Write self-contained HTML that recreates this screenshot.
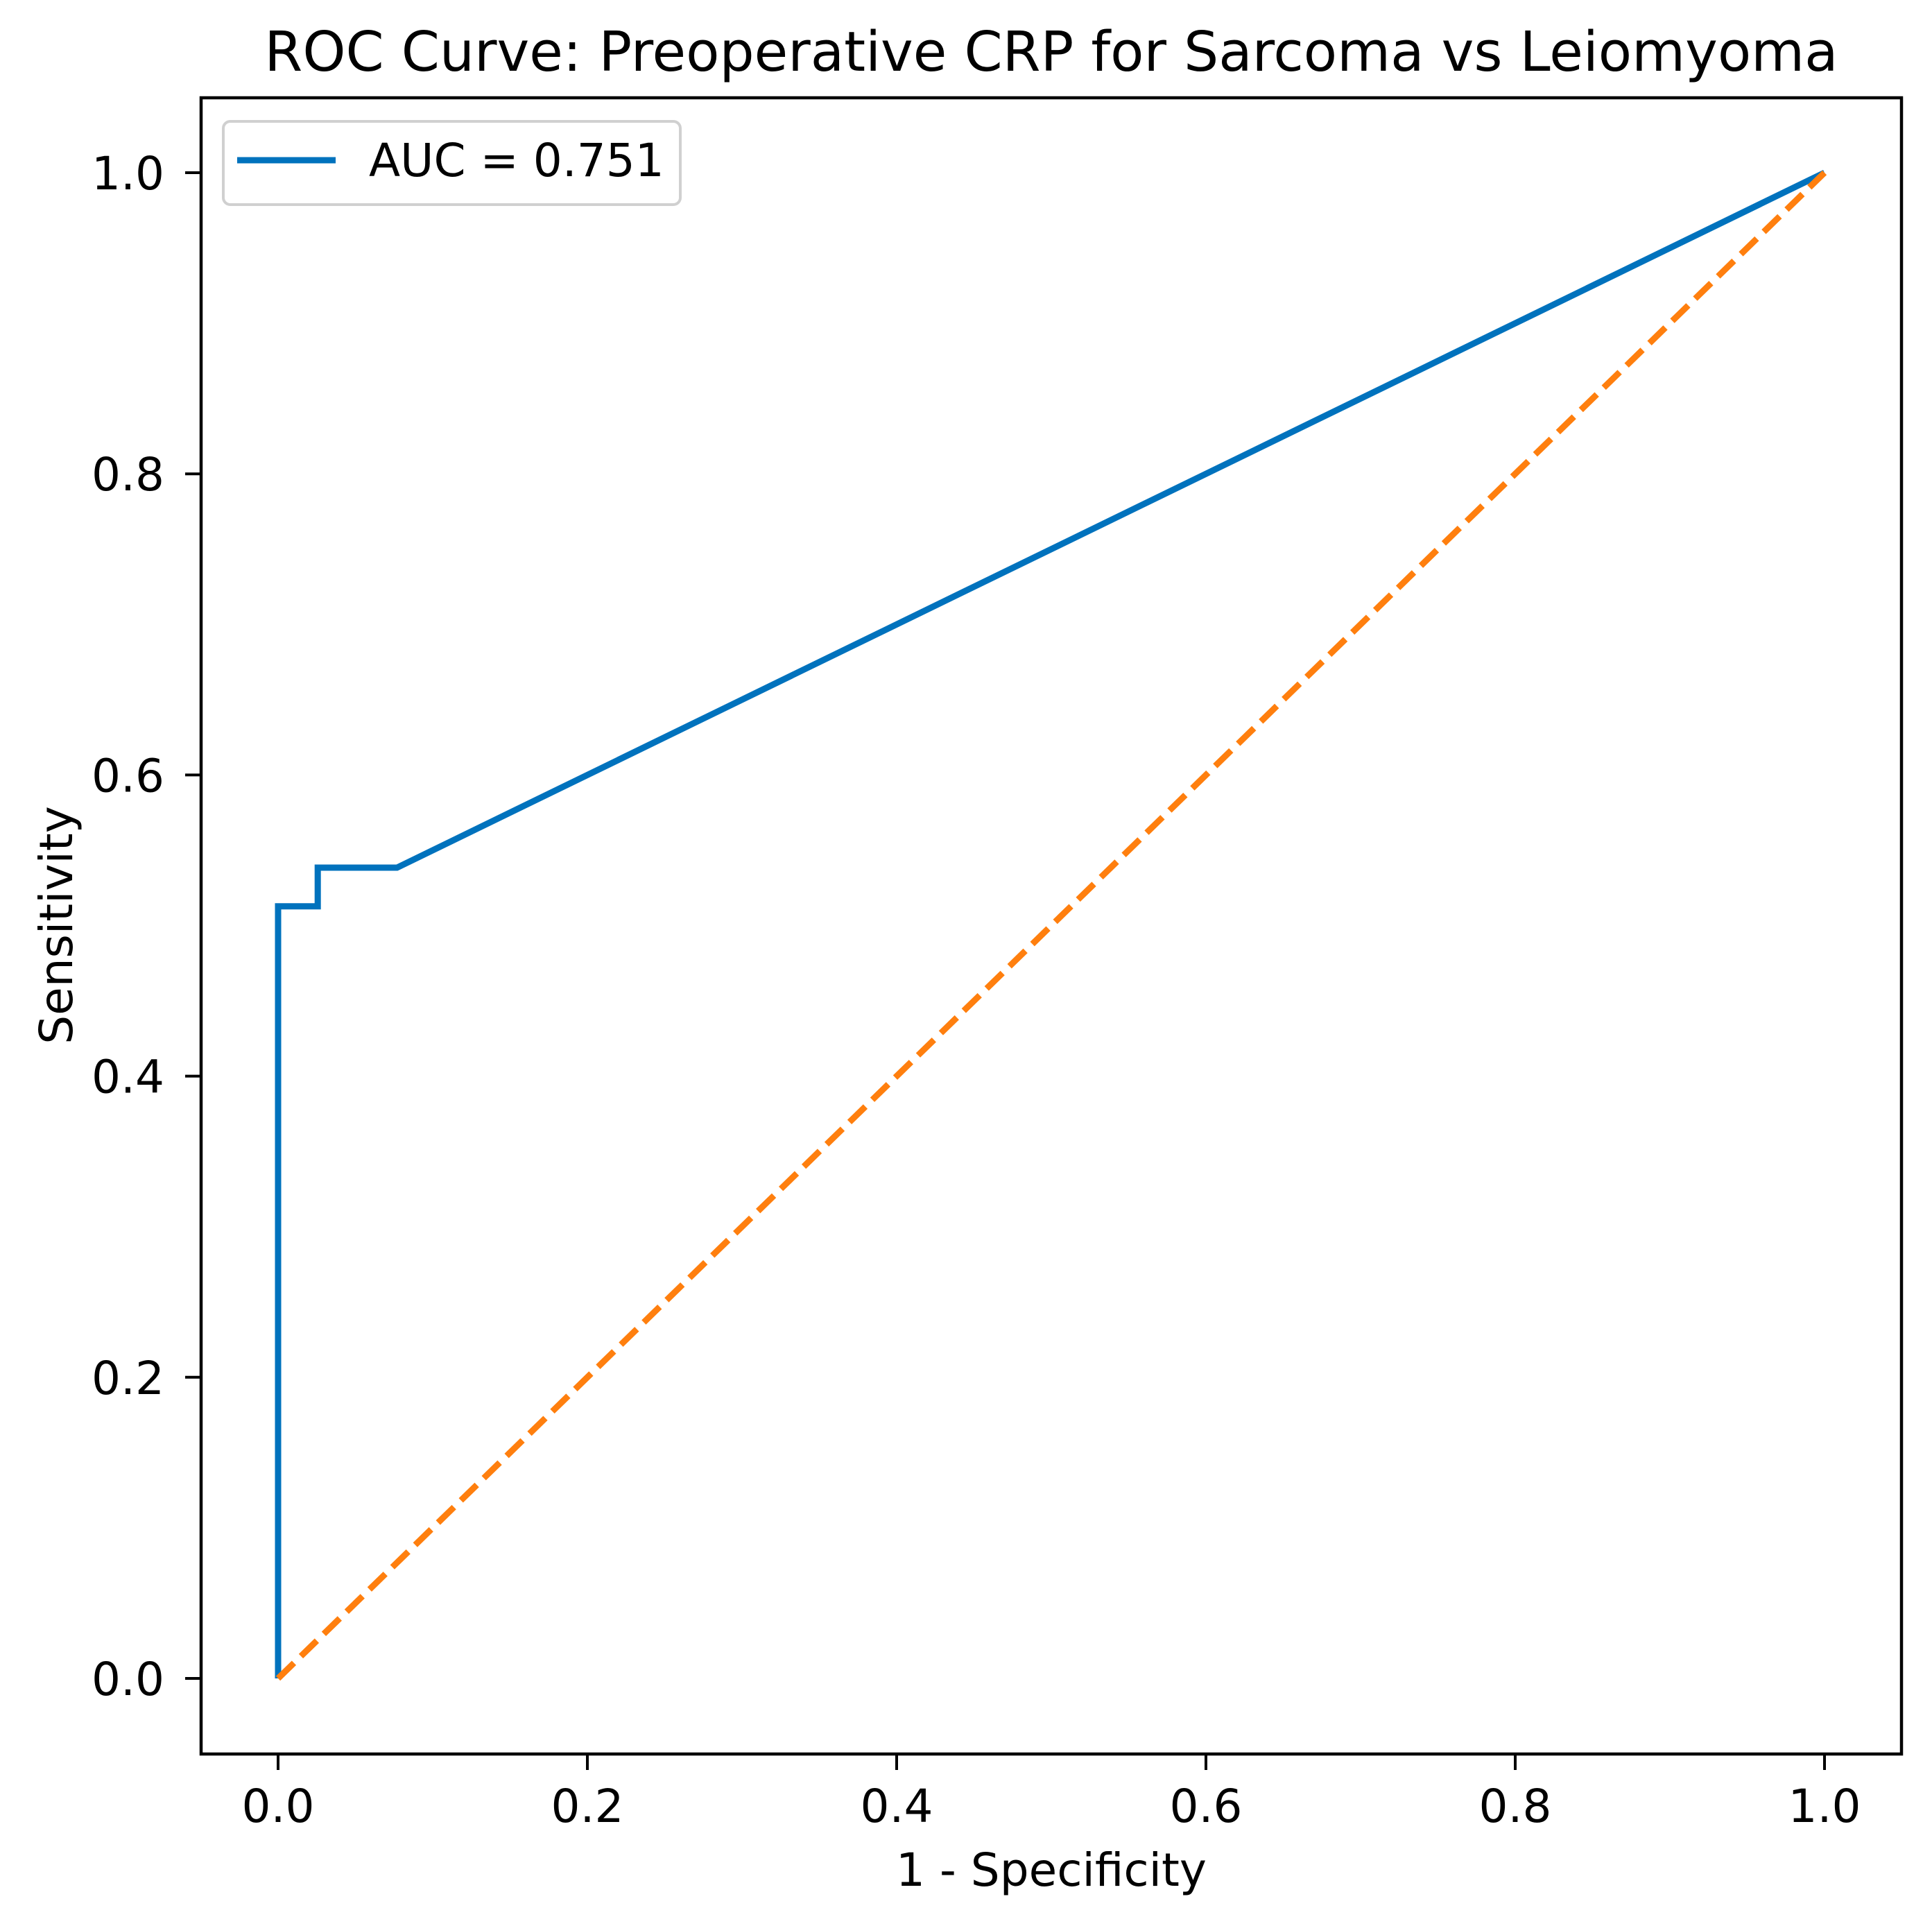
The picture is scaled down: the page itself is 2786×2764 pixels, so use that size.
<!DOCTYPE html>
<html><head><meta charset="utf-8"><style>
html,body{margin:0;padding:0;background:#fff}
svg{display:block}
text{font-family:"DejaVu Sans","Liberation Sans",sans-serif;fill:#000}
</style></head><body>
<svg id="chart" width="2786" height="2764" viewBox="0 0 2786 2764" xmlns="http://www.w3.org/2000/svg">
<rect x="0" y="0" width="2786" height="2764" fill="#fff"/>
<text x="1516" y="102" font-size="79" text-anchor="middle">ROC Curve: Preoperative CRP for Sarcoma vs Leiomyoma</text>
<g id="plot"></g>
<g id="xticks"></g>
<g id="yticks"></g>
<text x="1516" y="2719" font-size="66" text-anchor="middle">1 - Specificity</text>
<text transform="translate(104,1334) rotate(-90)" font-size="66" text-anchor="middle">Sensitivity</text>
<rect x="290" y="141" width="2452" height="2388" fill="none" stroke="#000" stroke-width="4.5"/>
<g>
<rect x="322" y="175" width="659" height="120" rx="10" fill="#fff" fill-opacity="0.8" stroke="#d0d0d0" stroke-width="4"/>
<line x1="342" y1="231" x2="484" y2="231" stroke="#0072BD" stroke-width="9"/>
<text x="532" y="254" font-size="66">AUC = 0.751</text>
</g>
</svg>
<script>
const fprValues = [0, 0, 1/39, 1/39, 3/39, 1];
const tprValues = [0, 20/39, 20/39, 21/39, 21/39, 1];
const chanceX = [0, 1];
const chanceY = [0, 1];
const xTickValues = [0, 0.2, 0.4, 0.6, 0.8, 1.0];
const xTickLabels = ["0.0", "0.2", "0.4", "0.6", "0.8", "1.0"];
const yTickValues = [0, 0.2, 0.4, 0.6, 0.8, 1.0];
const yTickLabels = ["0.0", "0.2", "0.4", "0.6", "0.8", "1.0"];

const NS = "http://www.w3.org/2000/svg";
const X0 = 401, X1 = 2631, Y0 = 2420, Y1 = 249;
function sx(v){ return X0 + v * (X1 - X0); }
function sy(v){ return Y0 + v * (Y1 - Y0); }
const plot = document.getElementById('plot');
const xg = document.getElementById('xticks');
const yg = document.getElementById('yticks');

function pts(xs, ys){ return xs.map((x,i)=>sx(x).toFixed(1)+','+sy(ys[i]).toFixed(1)).join(' '); }

const roc = document.createElementNS(NS,'polyline');
roc.setAttribute('points', pts(fprValues, tprValues));
roc.setAttribute('fill','none');
roc.setAttribute('stroke','#0072BD');
roc.setAttribute('stroke-width','9');
roc.setAttribute('stroke-linejoin','miter');


plot.appendChild(roc);

const diag = document.createElementNS(NS,'polyline');
diag.setAttribute('points', pts(chanceX, chanceY));
diag.setAttribute('fill','none');
diag.setAttribute('stroke','#FF7F0E');
diag.setAttribute('stroke-width','9');
diag.setAttribute('stroke-dasharray','32 14');


plot.appendChild(diag);

xTickValues.forEach((v,i)=>{
  const x = sx(v);
  const t = document.createElementNS(NS,'line');
  t.setAttribute('x1',x); t.setAttribute('x2',x);
  t.setAttribute('y1',2529); t.setAttribute('y2',2552);
  t.setAttribute('stroke','#000'); t.setAttribute('stroke-width','4');
  
  
  xg.appendChild(t);
  const l = document.createElementNS(NS,'text');
  l.setAttribute('x',x); l.setAttribute('y',2627);
  l.setAttribute('font-size','66'); l.setAttribute('text-anchor','middle');
  l.textContent = xTickLabels[i];
  
  
  xg.appendChild(l);
});
yTickValues.forEach((v,i)=>{
  const y = sy(v);
  const t = document.createElementNS(NS,'line');
  t.setAttribute('x1',267); t.setAttribute('x2',290);
  t.setAttribute('y1',y); t.setAttribute('y2',y);
  t.setAttribute('stroke','#000'); t.setAttribute('stroke-width','4');
  
  
  yg.appendChild(t);
  const l = document.createElementNS(NS,'text');
  l.setAttribute('x',237); l.setAttribute('y',y+24);
  l.setAttribute('font-size','66'); l.setAttribute('text-anchor','end');
  l.textContent = yTickLabels[i];
  
  
  yg.appendChild(l);
});
</script>
</body></html>
